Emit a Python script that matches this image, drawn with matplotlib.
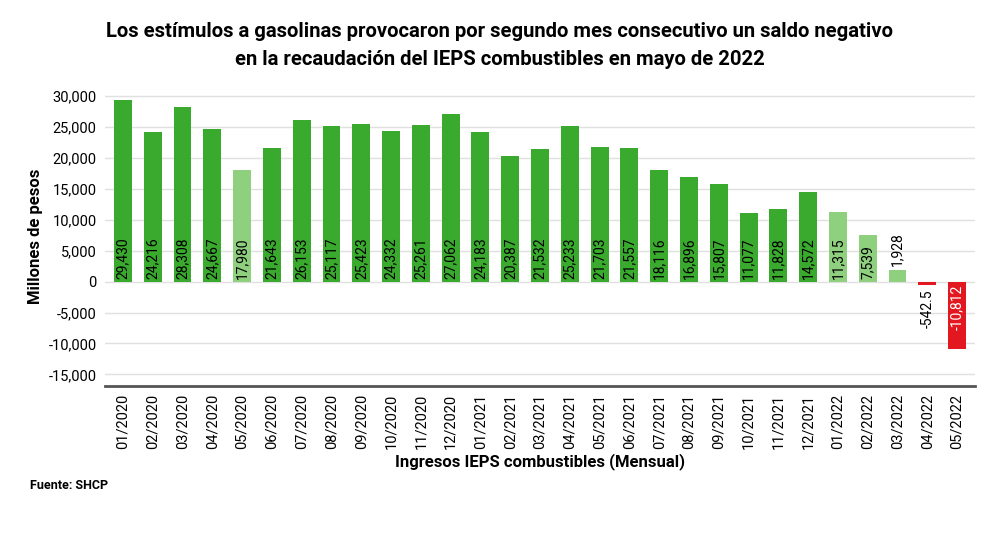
import matplotlib
matplotlib.use("Agg")
import matplotlib.pyplot as plt

labels = ["01/2020","02/2020","03/2020","04/2020","05/2020","06/2020","07/2020","08/2020","09/2020","10/2020","11/2020","12/2020",
          "01/2021","02/2021","03/2021","04/2021","05/2021","06/2021","07/2021","08/2021","09/2021","10/2021","11/2021","12/2021",
          "01/2022","02/2022","03/2022","04/2022","05/2022"]
values = [29430,24216,28308,24667,17980,21643,26153,25117,25423,24332,25261,27062,
          24183,20387,21532,25233,21703,21557,18116,16896,15807,11077,11828,14572,
          11315,7539,1928,-542.5,-10812]
value_text = ["29,430","24,216","28,308","24,667","17,980","21,643","26,153","25,117","25,423","24,332","25,261","27,062",
              "24,183","20,387","21,532","25,233","21,703","21,557","18,116","16,896","15,807","11,077","11,828","14,572",
              "11,315","7,539","1,928","-542.5","-10,812"]
light = {"05/2020","01/2022","02/2022","03/2022"}

plt.rcParams['font.family'] = ['Roboto', 'DejaVu Sans']
fig = plt.figure(figsize=(10, 5.43), dpi=100)
ax = fig.add_axes([0.105, 0.29, 0.87, 0.55])
dark, lightc, red = "#3aaa2e", "#8fd07f", "#e3171f"
x = range(len(labels))
cols = [red if v < 0 else (lightc if l in light else dark) for l, v in zip(labels, values)]
ax.bar(x, values, width=0.6, color=cols, zorder=2)
fs = 10
for i, (v, t) in enumerate(zip(values, value_text)):
    if v >= 5000:
        ax.annotate(t, (i, 0), xytext=(0, 2), textcoords="offset points", rotation=90,
                    ha="center", va="bottom", fontsize=fs, color="black", zorder=3)
    elif v > 0:
        ax.annotate(t, (i, v), xytext=(0, 3), textcoords="offset points", rotation=90,
                    ha="center", va="bottom", fontsize=fs, color="black", zorder=3)
    elif v > -3000:
        ax.annotate(t, (i, v), xytext=(0, -3), textcoords="offset points", rotation=90,
                    ha="center", va="top", fontsize=fs, color="black", zorder=3)
    else:
        ax.annotate(t, (i, 0), xytext=(0, -2), textcoords="offset points", rotation=90,
                    ha="center", va="top", fontsize=fs, color="white", zorder=3)

ax.set_ylim(-16800, 31500)
ax.set_xlim(-0.6, len(labels) - 0.4)
ax.set_yticks(range(-15000, 30001, 5000))
ax.set_yticklabels([f"{t:,}" for t in range(-15000, 30001, 5000)], fontsize=10.5)
ax.set_xticks(list(x))
ax.set_xticklabels(labels, rotation=90, fontsize=10.5)
ax.grid(axis="y", color="#e0e0e0", linewidth=1, zorder=0)
for s in ["top", "right", "left"]:
    ax.spines[s].set_visible(False)
ax.spines["bottom"].set_color("#555555")
ax.spines["bottom"].set_linewidth(2)
ax.tick_params(length=0, pad=6)
ax.set_ylabel("Millones de pesos", fontsize=12, fontweight="bold")
ax.set_xlabel("Ingresos IEPS combustibles (Mensual)", fontsize=12, fontweight="bold", labelpad=3)
fig.text(0.5, 0.96, "Los estímulos a gasolinas provocaron por segundo mes consecutivo un saldo negativo\nen la recaudación del IEPS combustibles en mayo de 2022",
         ha="center", va="top", fontsize=14.6, fontweight="bold", linespacing=1.65)
fig.text(0.03, 0.1, "Fuente: SHCP", fontsize=9, fontweight="bold")
fig.savefig("out.png", dpi=100)
